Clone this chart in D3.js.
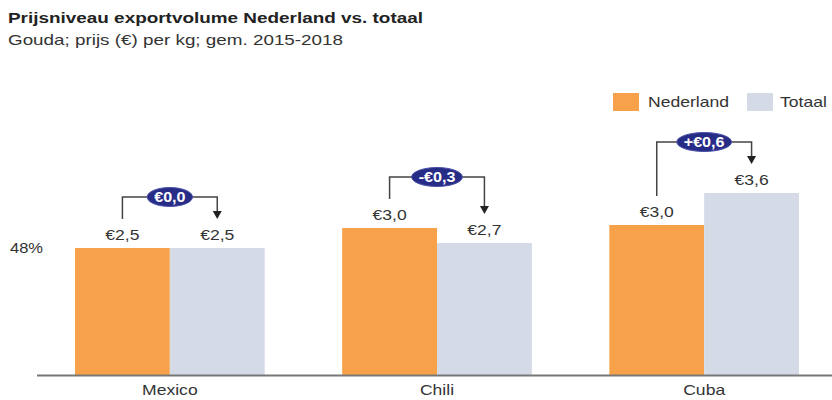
<!DOCTYPE html>
<html><head><meta charset="utf-8">
<script src="https://cdn.jsdelivr.net/npm/d3@7"></script>
<style>body{margin:0;background:#fff}svg{display:block;font-family:"Liberation Sans",Arial,sans-serif}</style>
</head><body>
<svg id="c" width="832" height="400"></svg>
<script>
const categories = ["Mexico", "Chili", "Cuba"];
const series = ["Nederland", "Totaal"];
const nederland = [2.54, 2.94, 3.0];
const totaal = [2.54, 2.64, 3.64];
const labelsNederland = ["€2,5", "€3,0", "€3,0"];
const labelsTotaal = ["€2,5", "€2,7", "€3,6"];
const deltaLabels = ["€0,0", "-€0,3", "+€0,6"];
const colors = {Nederland: "#F7A24B", Totaal: "#D4DBE6"};

const K = 1.17; // horizontal stretch of the reference lettering
function stretch(sel, k) {
  sel.each(function() {
    const w = this.getComputedTextLength();
    d3.select(this).attr("textLength", w * k).attr("lengthAdjust", "spacingAndGlyphs");
  });
}

const svg = d3.select("#c");
const baseY = 375;
const y = d3.scaleLinear().domain([0, 1]).range([baseY, baseY - 50]);
const x = d3.scaleBand().domain(categories).range([75, 799]).paddingInner(0.29).paddingOuter(0);
const xs = d3.scaleBand().domain(series).range([0, x.bandwidth()]);

// title
svg.append("text").attr("x", 8).attr("y", 23).attr("font-size", 14.5).attr("font-weight", "bold").attr("fill", "#222")
  .attr("textLength", 415).attr("lengthAdjust", "spacingAndGlyphs")
  .text("Prijsniveau exportvolume Nederland vs. totaal");
svg.append("text").attr("x", 8).attr("y", 45).attr("font-size", 14.5).attr("fill", "#333")
  .attr("textLength", 335).attr("lengthAdjust", "spacingAndGlyphs")
  .text("Gouda; prijs (€) per kg; gem. 2015-2018");

// legend
const lg = svg.append("g");
[["Nederland", 613, 648], ["Totaal", 747, 780]].forEach(([s, rx, tx]) => {
  lg.append("rect").attr("x", rx).attr("y", 93).attr("width", 26).attr("height", 18).attr("fill", colors[s]);
  lg.append("text").attr("x", tx).attr("y", 107).attr("font-size", 15).attr("fill", "#333").text(s).call(stretch, K);
});

// stray label
svg.append("text").attr("x", 10).attr("y", 253).attr("font-size", 15).attr("fill", "#333").text("48%").call(stretch, 1.1);

const data = categories.map((c, i) => ({cat: c, vals: [
  {s: "Nederland", v: nederland[i], lab: labelsNederland[i]},
  {s: "Totaal", v: totaal[i], lab: labelsTotaal[i]}], delta: deltaLabels[i]}));

const g = svg.selectAll("g.grp").data(data).join("g").attr("class", "grp")
  .attr("transform", d => `translate(${x(d.cat)},0)`);

g.selectAll("rect").data(d => d.vals).join("rect")
  .attr("x", d => xs(d.s)).attr("width", xs.bandwidth())
  .attr("y", d => y(d.v)).attr("height", d => baseY - y(d.v))
  .attr("fill", d => colors[d.s]);

g.selectAll("text.val").data(d => d.vals).join("text").attr("class", "val")
  .attr("x", d => xs(d.s) + xs.bandwidth() / 2).attr("y", d => y(d.v) - 8)
  .attr("text-anchor", "middle").attr("font-size", 15).attr("fill", "#333").text(d => d.lab)
  .call(stretch, K);

// brackets
g.each(function(d) {
  const gg = d3.select(this);
  const a = d.vals[0], b = d.vals[1];
  const xa = xs(a.s) + xs.bandwidth() / 2, xb = xs(b.s) + xs.bandwidth() / 2;
  const top = Math.min(y(a.v), y(b.v)) - 51;
  const ya = y(a.v) - 8 - 21, yb = y(b.v) - 8 - 21;
  gg.append("path").attr("d", `M${xa},${ya}V${top}H${xb}V${yb - 7}`)
    .attr("fill", "none").attr("stroke", "#444").attr("stroke-width", 1.5);
  gg.append("path").attr("d", `M${xb - 4.5},${yb - 8}L${xb + 4.5},${yb - 8}L${xb},${yb}Z`).attr("fill", "#222");
  const cx = (xa + xb) / 2;
  const ell = gg.append("ellipse").attr("cx", cx).attr("cy", top).attr("ry", 9.5)
    .attr("fill", "#272C86").attr("stroke", "#4A51A8").attr("stroke-width", 1);
  const t = gg.append("text").attr("x", cx).attr("y", top + 5).attr("text-anchor", "middle")
    .attr("font-size", 14).attr("font-weight", "bold").attr("fill", "#fff").text(d.delta);
  const w = t.node().getComputedTextLength() * 1.15;
  t.attr("textLength", w).attr("lengthAdjust", "spacingAndGlyphs");
  ell.attr("rx", w / 2 + 7);
});

// axis
const ax = svg.append("g").attr("transform", `translate(0,${baseY})`)
  .call(d3.axisBottom(x).tickSize(0).tickPadding(9));
ax.select(".domain").remove();
ax.selectAll("text").attr("font-size", 15).attr("fill", "#333").attr("font-family", "Liberation Sans, Arial, sans-serif")
  .call(stretch, K);
svg.append("line").attr("x1", 37).attr("x2", 832).attr("y1", baseY + 0.5).attr("y2", baseY + 0.5)
  .attr("stroke", "#777").attr("stroke-width", 2);
</script>
</body></html>
